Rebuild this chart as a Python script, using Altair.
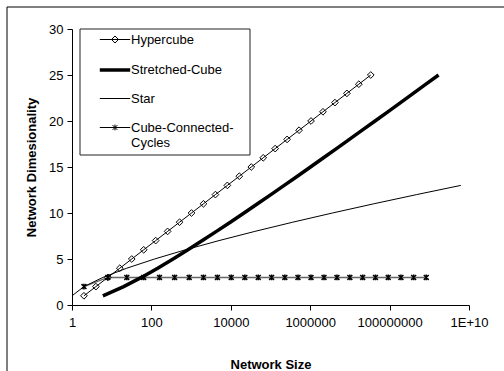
import json
import altair as alt
import pandas as pd

# Series names, in legend order
series_names = ["Hypercube", "Stretched-Cube", "Star", "Cube-Connected-Cycles"]

# Hypercube: size 2^n, dimension n
hypercube_size = [2, 4, 8, 16, 32, 64, 128, 256, 512, 1024, 2048, 4096, 8192,
                  16384, 32768, 65536, 131072, 262144, 524288, 1048576, 2097152,
                  4194304, 8388608, 16777216, 33554432]
hypercube_dim = [1, 2, 3, 4, 5, 6, 7, 8, 9, 10, 11, 12, 13, 14, 15, 16, 17, 18,
                 19, 20, 21, 22, 23, 24, 25]

# Stretched-Cube
stretched_size = [6, 20, 56, 144, 352, 832, 1920, 4352, 9728, 21504, 47104,
                  102400, 221184, 475136, 1015808, 2162688, 4587520, 9699328,
                  20447232, 42991616, 90177536, 188743680, 394264576,
                  822083584, 1711276032]
stretched_dim = [1, 2, 3, 4, 5, 6, 7, 8, 9, 10, 11, 12, 13, 14, 15, 16, 17, 18,
                 19, 20, 21, 22, 23, 24, 25]

# Star graph: size n!, dimension n
star_size = [1, 2, 6, 24, 120, 720, 5040, 40320, 362880, 3628800, 39916800,
             479001600, 6227020800]
star_dim = [1, 2, 3, 4, 5, 6, 7, 8, 9, 10, 11, 12, 13]

# Cube-Connected-Cycles: size n*2^n
ccc_size = [2, 8, 24, 64, 160, 384, 896, 2048, 4608, 10240, 22528, 49152,
            106496, 229376, 491520, 1048576, 2228224, 4718592, 9961472,
            20971520, 44040192, 92274688, 192937984, 402653184, 838860800]
ccc_dim = [2, 3, 3, 3, 3, 3, 3, 3, 3, 3, 3, 3, 3, 3, 3, 3, 3, 3, 3, 3, 3, 3,
           3, 3, 3]

# Axis ticks
x_tick_values = [1, 100, 10000, 1000000, 100000000, 10000000000]
x_tick_labels = ["1", "100", "10000", "1000000", "100000000", "1E+10"]
y_tick_values = [0, 5, 10, 15, 20, 25, 30]

frames = []
for name, sz, dm in [
    ("Hypercube", hypercube_size, hypercube_dim),
    ("Stretched-Cube", stretched_size, stretched_dim),
    ("Star", star_size, star_dim),
    ("Cube-Connected-Cycles", ccc_size, ccc_dim),
]:
    frames.append(pd.DataFrame({"series": name, "size": sz, "dim": dm}))
df = pd.concat(frames, ignore_index=True)

FONT = "Liberation Sans"

x_enc = alt.X(
    "size:Q",
    scale=alt.Scale(type="log", domain=[1, 1e10]),
    axis=alt.Axis(
        values=x_tick_values,
        labelExpr=f"{json.dumps(x_tick_labels)}[indexof({json.dumps(x_tick_values)}, datum.value)]",
        title="Network Size",
        labelFlush=False,
        labelOverlap=False,
        labelPadding=6,
        titlePadding=29,
    ),
)
y_enc = alt.Y(
    "dim:Q",
    scale=alt.Scale(domain=[0, 30], nice=False),
    axis=alt.Axis(
        values=y_tick_values,
        title="Network Dimesionality",
        labelPadding=4,
        titlePadding=10,
    ),
)

base = alt.Chart(df)

thin_lines = base.transform_filter(
    alt.FieldOneOfPredicate(field="series", oneOf=["Hypercube", "Star"])
).mark_line(color="black", strokeWidth=1).encode(x=x_enc, y=y_enc, detail="series:N")

thick_line = base.transform_filter(
    alt.FieldEqualPredicate(field="series", equal="Stretched-Cube")
).mark_line(color="black", strokeWidth=3.5).encode(x=x_enc, y=y_enc)

ccc_line = base.transform_filter(
    alt.FieldEqualPredicate(field="series", equal="Cube-Connected-Cycles")
).mark_line(color="#666666", strokeWidth=1.5).encode(x=x_enc, y=y_enc)

hyper_pts = base.transform_filter(
    alt.FieldEqualPredicate(field="series", equal="Hypercube")
).mark_point(shape="diamond", size=45, filled=False, color="black",
             strokeWidth=1, opacity=1).encode(x=x_enc, y=y_enc)

ASTERISK = "M-1,-1L1,1M-1,1L1,-1M0,-1.2L0,1.2"
ccc_pts = base.transform_filter(
    alt.FieldEqualPredicate(field="series", equal="Cube-Connected-Cycles")
).mark_point(shape=ASTERISK, size=24, filled=False, color="black",
             strokeWidth=1.5, opacity=1).encode(x=x_enc, y=y_enc)

# Legend symbols: a line segment with the series marker on it
legend_paths = [
    "M-1.9,0L1.9,0M0,-0.44L0.44,0L0,0.44L-0.44,0Z",
    "M-1.9,0L1.9,0",
    "M-1.9,0L1.9,0",
    "M-1.9,0L1.9,0M-0.3,-0.3L0.3,0.3M-0.3,0.3L0.3,-0.3M0,-0.36L0,0.36",
]
legend_widths = [1, 3.5, 1, 1]
legend_label_expr = (
    "datum.label == 'Cube-Connected-Cycles' ? ['Cube-Connected-', 'Cycles'] : datum.label"
)
legend = alt.Legend(
    title=None,
    orient="none",
    legendX=8,
    legendY=0,
    padding=2,
    rowPadding=13,
    symbolSize=256,
    symbolOffset=23,
    labelOffset=6,
    labelFont=FONT,
    labelFontSize=13,
    labelColor="black",
    labelExpr=legend_label_expr,
    labelLimit=200,
)
legend_layer = base.transform_filter("false").mark_point(
    filled=False, color="black", opacity=1
).encode(
    x=x_enc,
    y=y_enc,
    shape=alt.Shape("series:N", scale=alt.Scale(domain=series_names, range=legend_paths), legend=legend),
    strokeWidth=alt.StrokeWidth(
        "series:N",
        scale=alt.Scale(type="ordinal", domain=series_names, range=legend_widths),
        legend=legend,
    ),
)

# Legend frame
legend_box = alt.Chart(pd.DataFrame({"k": [0]})).mark_rect(
    fill="white", stroke="#222222", strokeWidth=1
).encode(x=alt.value(8), x2=alt.value(178), y=alt.value(0), y2=alt.value(126))

# Frame lines on the left and top of the figure
frame_left = alt.Chart(pd.DataFrame({"k": [0]})).mark_rule(color="black", strokeWidth=1).encode(
    x=alt.value(-65), y=alt.value(-22), y2=alt.value(345)
)
frame_top = alt.Chart(pd.DataFrame({"k": [0]})).mark_rule(color="black", strokeWidth=1).encode(
    x=alt.value(-65), x2=alt.value(435), y=alt.value(-22)
)

chart = alt.layer(
    frame_left, frame_top, legend_box, ccc_line, thin_lines, thick_line,
    hyper_pts, ccc_pts, legend_layer
).properties(
    width=397,
    height=276,
    autosize=alt.AutoSizeParams(type="none"),
    padding={"left": 72, "top": 29, "right": 35, "bottom": 66},
).configure_view(stroke=None).configure_axis(
    grid=False,
    domainColor="black",
    tickColor="black",
    tickSize=5,
    labelColor="black",
    titleColor="black",
    labelFont=FONT,
    titleFont=FONT,
    labelFontSize=13,
    titleFontSize=13,
    titleFontWeight="bold",
)

chart.save("out.html", embed_options={"renderer": "svg", "actions": False})
